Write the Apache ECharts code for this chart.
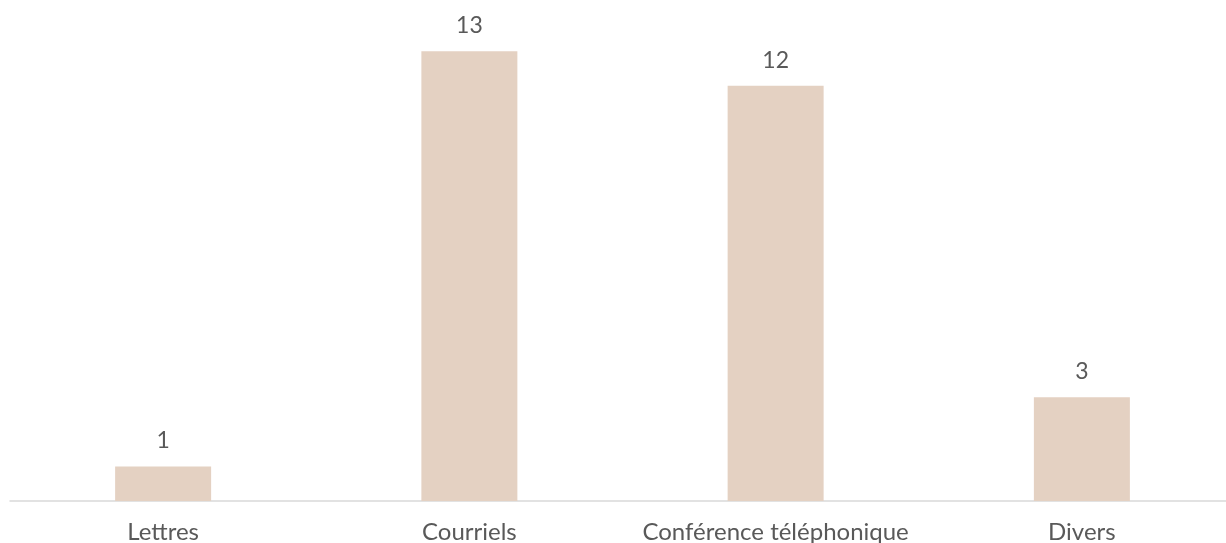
<!DOCTYPE html>
<html><head><meta charset="utf-8">
<script src="https://cdn.jsdelivr.net/npm/echarts@6/dist/echarts.min.js"></script>
<style>html,body{margin:0;padding:0;background:#fff}#c{width:1226px;height:543px}</style>
</head><body><div id="c"></div>
<script>
const categories = ["Lettres", "Courriels", "Conférence téléphonique", "Divers"];
const values = [1, 13, 12, 3];

const chart = echarts.init(document.getElementById('c'), null, {renderer: 'canvas'});
chart.setOption({
  animation: false,
  grid: {left: 10, width: 1225, top: 16.6, bottom: 42, containLabel: false, outerBoundsMode: 'none'},
  xAxis: {
    type: 'category', data: categories,
    axisLine: {show: true, lineStyle: {color: '#d9d9d9', width: 1.5}},
    axisTick: {show: false},
    axisLabel: {color: '#595959', fontFamily: 'Lato', fontSize: 24, margin: 19, interval: 0, hideOverlap: false}
  },
  yAxis: {type: 'value', min: 0, max: 14, show: false, splitLine: {show: false}},
  series: [{
    type: 'bar', data: values, barWidth: 96,
    itemStyle: {color: '#e4d1c2'},
    label: {show: true, position: 'top', distance: 14, color: '#595959', fontFamily: 'Lato', fontSize: 23}
  }]
});
</script></body></html>
